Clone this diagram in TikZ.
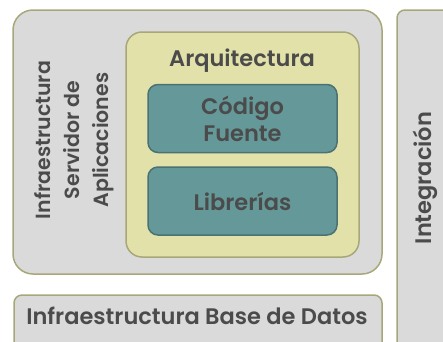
\documentclass[tikz,border=0pt]{standalone}
\usepackage{fontspec}
\setmainfont{Poppins}[BoldFont={Poppins SemiBold}]
\definecolor{grisfondo}{HTML}{DADADA}
\definecolor{borde}{HTML}{A8A77A}
\definecolor{amarillo}{HTML}{E3E1AA}
\definecolor{verdeazul}{HTML}{659999}
\definecolor{verdeborde}{HTML}{4A7272}
\definecolor{texto}{HTML}{4B4B4B}
\tikzset{
  caja/.style={draw=borde, fill=grisfondo, line width=1.5pt},
  arqcaja/.style={draw=borde, fill=amarillo, line width=1.5pt},
  modulo/.style={draw=verdeborde, fill=verdeazul, line width=1.5pt,
    rounded corners=10pt, minimum width=189pt, minimum height=68pt},
  rotulo/.style={text=texto, font=\bfseries\fontsize{22.5}{27}\selectfont, inner sep=0pt}
}
\begin{document}
\begin{tikzpicture}[x=1pt,y=-1pt]
\useasboundingbox (0,0) rectangle (443,341);
\clip (0,0) rectangle (443,341);

% cajas de fondo
\node[caja, rounded corners=20pt, minimum width=369pt, minimum height=264pt] (servidor) at (197.5,142) {};
\node[caja, rounded corners=8pt, minimum width=368pt, minimum height=80pt] (basedatos) at (198,335) {};
\node[caja, rounded corners=8pt, minimum width=80pt, minimum height=360pt] (integracion) at (437,190) {};

% arquitectura
\node[arqcaja, rounded corners=16pt, minimum width=233pt, minimum height=225pt] (arquitectura) at (242.5,144.5) {};
\node[modulo] (codigo) at (242.5,118.5) {};
\node[modulo] (librerias) at (242.5,201) {};

% textos
\node[rotulo] (tarq) at (242,61) {Arquitectura};
\node[rotulo, align=center] (tcod) at (codigo) {Código\\Fuente};
\node[rotulo] (tlib) at (librerias) {Librerías};
\node[rotulo, rotate=90, align=center, font=\bfseries\fontsize{20.5}{29}\selectfont] (tserv) at (74,140) {Infraestructura\\Servidor de\\Aplicaciones};
\node[rotulo] (tbd) at (197,316) {Infraestructura Base de Datos};
\node[rotulo, rotate=90] (tint) at (425,178) {Integración};
\end{tikzpicture}
\end{document}
